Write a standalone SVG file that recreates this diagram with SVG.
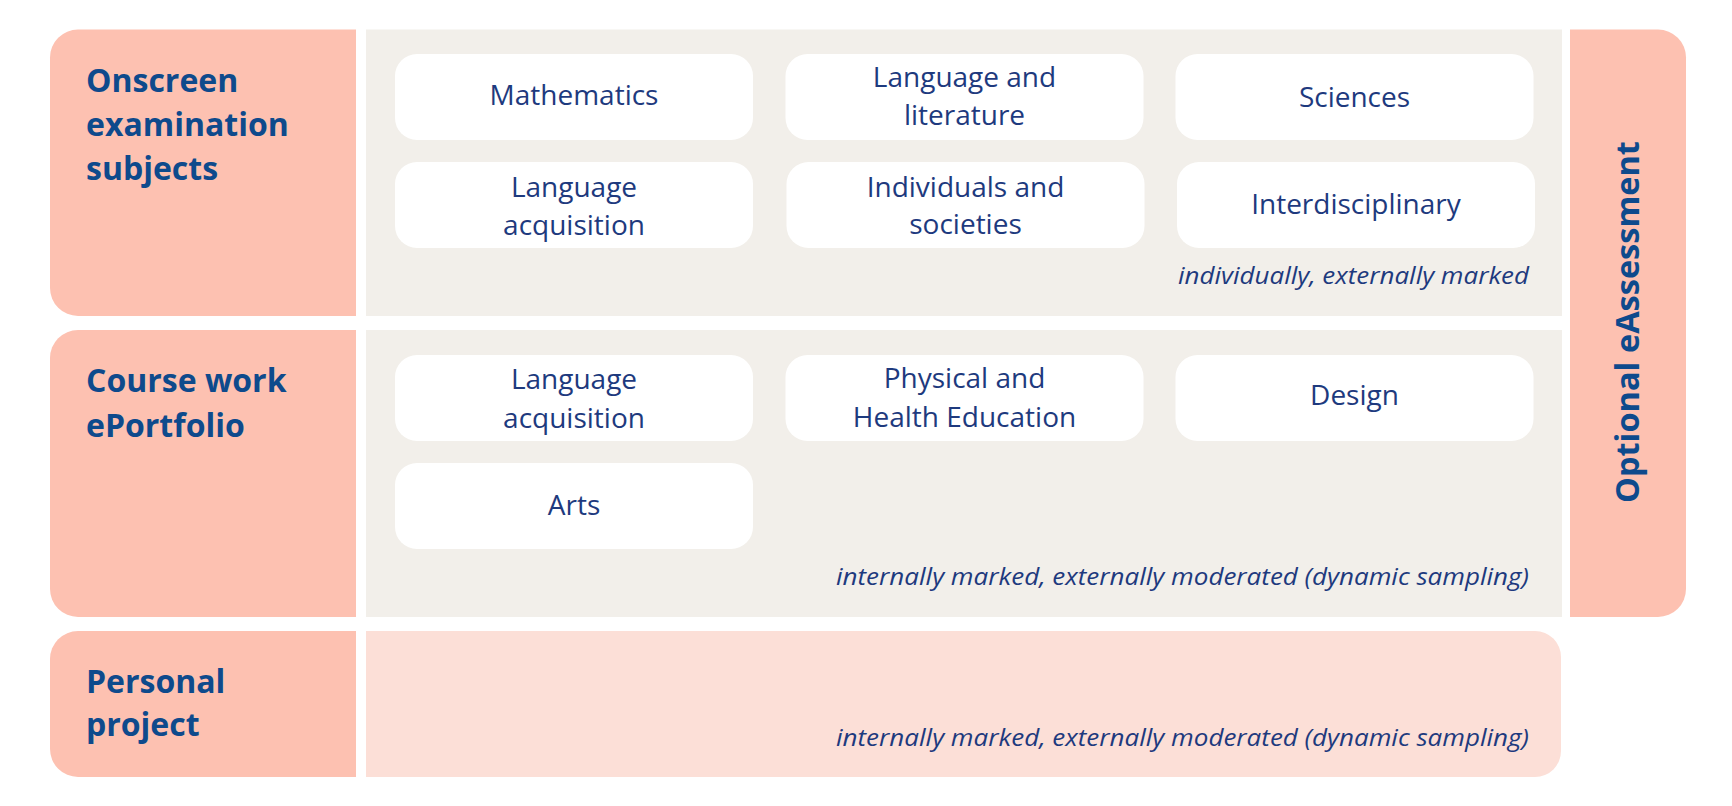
<svg xmlns="http://www.w3.org/2000/svg" width="1732" height="806" viewBox="0 0 1732 806">
<style>
.bg{fill:#FFFFFF}
.pink{fill:#FDC1B1}
.gray{fill:#F2EFEA}
.lpink{fill:#FCDFD7}
.box{fill:#FFFFFF}
.head{font-family:"Open Sans","Noto Sans","Liberation Sans",sans-serif;font-weight:700;font-size:32px;fill:#0E4A8C}
.lbl{font-family:"Open Sans","Noto Sans","Liberation Sans",sans-serif;font-weight:400;font-size:28px;fill:#1E3A7E;text-anchor:middle}
.note{font-family:"Open Sans","Noto Sans","Liberation Sans",sans-serif;font-style:italic;font-size:24px;fill:#1E3A7E;text-anchor:end}
.vert{font-family:"Open Sans","Noto Sans","Liberation Sans",sans-serif;font-weight:700;font-size:32.5px;fill:#0E4A8C;text-anchor:middle}
</style>
<rect class="bg" x="0" y="0" width="1732" height="806"/>

<g id="row-onscreen-header">
<path class="pink" d="M78,29.5 H356 V316 H78 A28,28 0 0 1 50,288 V57.5 A28,28 0 0 1 78,29.5 Z"/>
<text class="head" x="86" y="91.7">Onscreen</text>
<text class="head" x="86" y="136">examination</text>
<text class="head" x="86" y="180">subjects</text>
</g>
<g id="row-onscreen-panel">
<rect class="gray" x="366" y="29.5" width="1196" height="286.5"/>
<text class="note" x="1529" y="284.3" textLength="351" lengthAdjust="spacingAndGlyphs">individually, externally marked</text>
</g>
<g id="node-mathematics">
<rect class="box" x="395" y="54" width="358" height="86" rx="22"/>
<text class="lbl" x="574" y="105">Mathematics</text>
</g>
<g id="node-language-literature">
<rect class="box" x="785.5" y="54" width="358" height="86" rx="22"/>
<text class="lbl" x="964.5" y="87.3">Language and</text>
<text class="lbl" x="964.5" y="125">literature</text>
</g>
<g id="node-sciences">
<rect class="box" x="1175.5" y="54" width="358" height="86" rx="22"/>
<text class="lbl" x="1354.5" y="106.5">Sciences</text>
</g>
<g id="node-language-acquisition-1">
<rect class="box" x="395" y="162" width="358" height="86" rx="22"/>
<text class="lbl" x="574" y="197">Language</text>
<text class="lbl" x="574" y="235">acquisition</text>
</g>
<g id="node-individuals-societies">
<rect class="box" x="786.5" y="162" width="358" height="86" rx="22"/>
<text class="lbl" x="965.5" y="197">Individuals and</text>
<text class="lbl" x="965.5" y="234">societies</text>
</g>
<g id="node-interdisciplinary">
<rect class="box" x="1177" y="162" width="358" height="86" rx="22"/>
<text class="lbl" x="1356" y="213.5">Interdisciplinary</text>
</g>

<g id="row-coursework-header">
<path class="pink" d="M78,330 H356 V617 H78 A28,28 0 0 1 50,589 V358 A28,28 0 0 1 78,330 Z"/>
<text class="head" x="86" y="391.7">Course work</text>
<text class="head" x="86" y="437.3">ePortfolio</text>
</g>
<g id="row-coursework-panel">
<rect class="gray" x="366" y="330" width="1196" height="287"/>
<text class="note" x="1529" y="585" textLength="693" lengthAdjust="spacingAndGlyphs">internally marked, externally moderated (dynamic sampling)</text>
</g>
<g id="node-language-acquisition-2">
<rect class="box" x="395" y="355" width="358" height="86" rx="22"/>
<text class="lbl" x="574" y="389.3">Language</text>
<text class="lbl" x="574" y="428">acquisition</text>
</g>
<g id="node-phe">
<rect class="box" x="785.5" y="355" width="358" height="86" rx="22"/>
<text class="lbl" x="964.5" y="388.3">Physical and</text>
<text class="lbl" x="964.5" y="427.3">Health Education</text>
</g>
<g id="node-design">
<rect class="box" x="1175.5" y="355" width="358" height="86" rx="22"/>
<text class="lbl" x="1354.5" y="405">Design</text>
</g>
<g id="node-arts">
<rect class="box" x="395" y="463" width="358" height="86" rx="22"/>
<text class="lbl" x="574" y="514.5">Arts</text>
</g>

<g id="row-personal-header">
<path class="pink" d="M78,631 H356 V777 H78 A28,28 0 0 1 50,749 V659 A28,28 0 0 1 78,631 Z"/>
<text class="head" x="86" y="693">Personal</text>
<text class="head" x="86" y="736.3">project</text>
</g>
<g id="row-personal-panel">
<path class="lpink" d="M366,631 H1535 A26,26 0 0 1 1561,657 V751 A26,26 0 0 1 1535,777 H366 Z"/>
<text class="note" x="1529" y="746.3" textLength="693" lengthAdjust="spacingAndGlyphs">internally marked, externally moderated (dynamic sampling)</text>
</g>

<g id="optional-eassessment">
<path class="pink" d="M1570,29.5 H1658 A28,28 0 0 1 1686,57.5 V589 A28,28 0 0 1 1658,617 H1570 Z"/>
<text class="vert" transform="translate(1639,322) rotate(-90)">Optional eAssessment</text>
</g>

<g id="connectors"></g>
</svg>
